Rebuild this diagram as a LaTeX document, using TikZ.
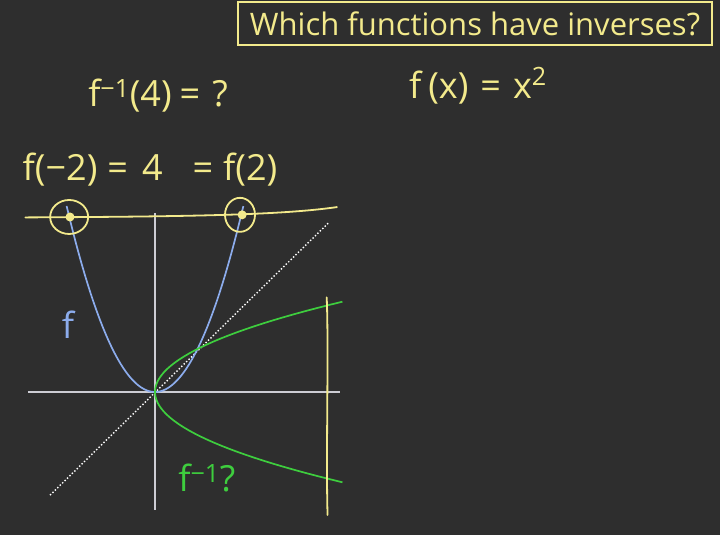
\documentclass[tikz,border=0pt]{standalone}
\usepackage{fontspec}
\setmainfont{Open Sans}
\usetikzlibrary{shapes.geometric}

\definecolor{board}{RGB}{46,46,46}
\definecolor{chalkyellow}{RGB}{243,234,140}
\definecolor{chalkblue}{RGB}{140,172,236}
\definecolor{chalkgreen}{RGB}{62,206,62}
\definecolor{axisgray}{RGB}{205,205,212}

\tikzset{
    ink/.style={chalkyellow, line width=1.8pt, line cap=round},
    handtext/.style={chalkyellow, inner sep=0pt, font=\fontsize{36}{40}\selectfont},
    axisline/.style={axisgray, line width=1.8pt},
}

\begin{document}
\begin{tikzpicture}[x=1pt, y=1pt]

\fill[board] (0,0) rectangle (720,535);
\useasboundingbox (0,0) rectangle (720,535);

\node[
    draw=chalkyellow,
    line width=1.8pt,
    minimum width=474pt,
    minimum height=43pt,
    inner sep=0pt,
    text=chalkyellow,
    font=\fontsize{31}{36}\selectfont
] (title) at (475,511.5)
{Which functions have inverses?};

\node[handtext] (fx) at (478,449)
    {f\hspace{7pt}(x)\hspace{12pt}=\hspace{12pt}x\raisebox{4pt}{\textsuperscript{2}}};
\node[handtext] (finv) at (158,439)
    {f\textsuperscript{−1}(4)\hspace{8pt}=\hspace{12pt}?};
\node[handtext] (fvals) at (150,365)
    {f(−2)\hspace{10pt}=\hspace{14pt}4\hspace{30pt}=\hspace{10pt}f(2)};

\begin{scope}[shift={(155,143)}, x=42.5pt, y=43pt]
    \coordinate (o) at (0,0);

    % axes
    \draw[axisline] (-2.99,0) -- (4.35,0);
    \draw[axisline] (0,-2.74) -- (0,4.16);

    % y = x
    \draw[white, line width=1.4pt, dotted] (-2.47,-2.4) -- (4.1,3.95);

    % f and its mirror image
    \draw[chalkblue, line width=1.7pt, domain=-2.08:2.08, samples=60]
        plot (\x,{\x*\x});
    \draw[chalkgreen, line width=1.7pt, domain=-2.1:2.1, samples=60]
        plot ({\x*\x},\x);

    \node[chalkblue, font=\fontsize{36}{40}\selectfont] (flabel) at (-2.05,1.56) {f};
    \node[chalkgreen, font=\fontsize{36}{40}\selectfont] (ginv) at (1.22,-2.0)
        {f\textsuperscript{−1}?};

    % horizontal line test
    \draw[ink] (-3.05,4.06) .. controls (1,4.08) and (3,4.12) .. (4.28,4.3);
    \draw[ink] (4.04,2.2) .. controls (4.09,1.0) and (4.02,-1.5) .. (4.06,-2.86);

    \node[ink, draw, ellipse, minimum width=38pt, minimum height=34pt, inner sep=0pt]
        (hitleft) at (-2.02,4.07) {};
    \node[ink, draw, ellipse, minimum width=30pt, minimum height=34pt, inner sep=0pt]
        (hitright) at (2.0,4.12) {};
    \fill[chalkyellow] (hitleft.center) ++(0.02,0) circle (4.5pt);
    \fill[chalkyellow] (hitright.center) ++(0.05,0) circle (4.5pt);
\end{scope}

\end{tikzpicture}
\end{document}
